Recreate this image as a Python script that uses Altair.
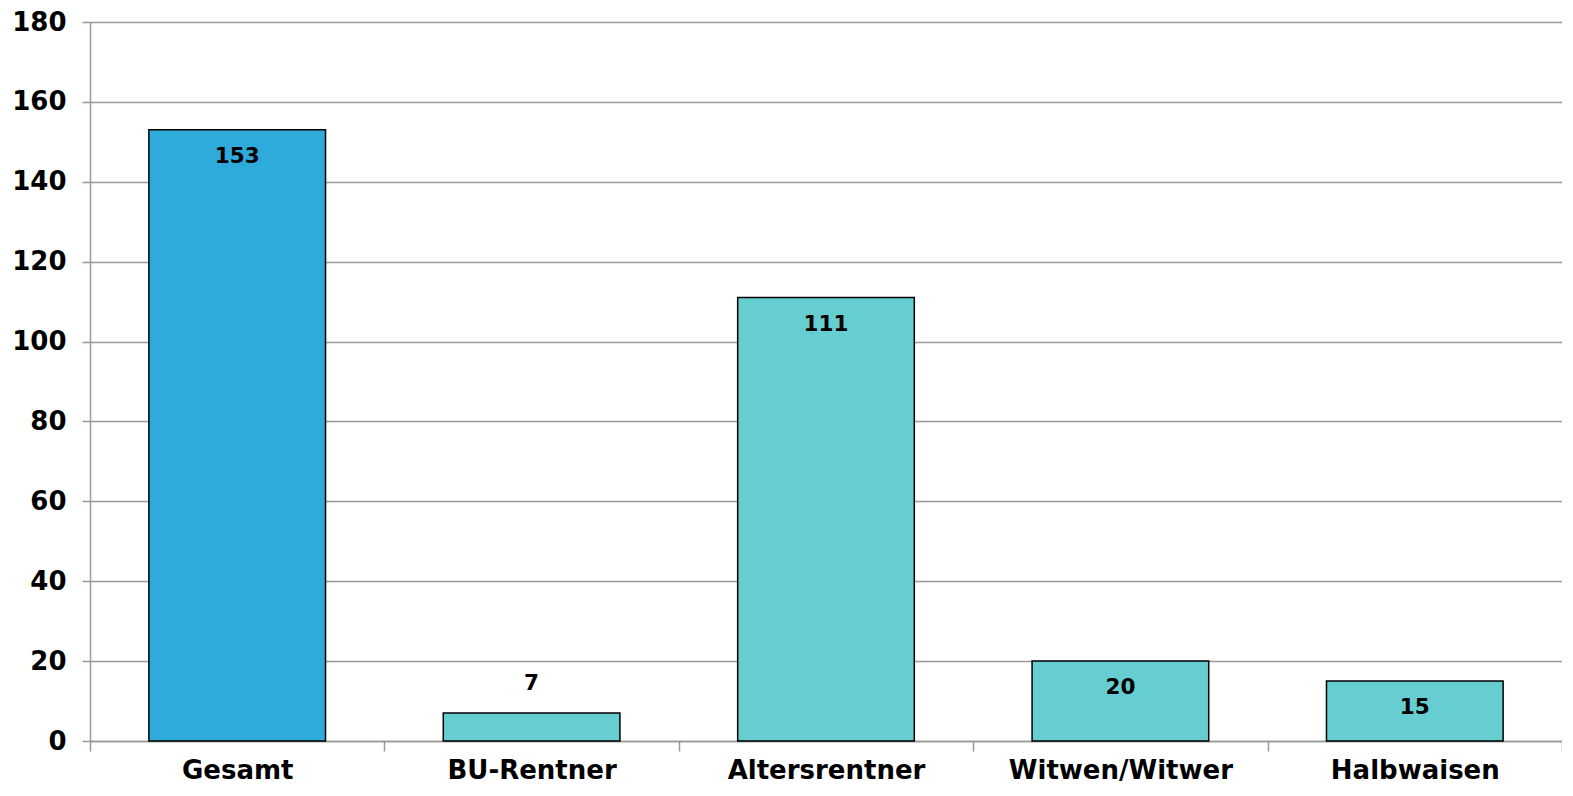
import altair as alt
import pandas as pd

categories = ["Gesamt", "BU-Rentner", "Altersrentner", "Witwen/Witwer", "Halbwaisen"]
values = [153, 7, 111, 20, 15]
groups = ["total", "part", "part", "part", "part"]

df = pd.DataFrame({"category": categories, "value": values, "group": groups})

FONT = "DejaVu Sans"

x = alt.X(
    "category:N",
    sort=categories,
    scale=alt.Scale(paddingInner=0, paddingOuter=0),
    axis=alt.Axis(
        title=None,
        labelAngle=0,
        labelFont=FONT,
        labelFontSize=26,
        labelFontWeight="bold",
        labelColor="#000000",
        labelLimit=0,
        labelPadding=6,
        labelBaseline="top",
        tickBand="extent",
        tickSize=10,
        tickColor="#999999",
        tickWidth=1.5,
        domainColor="#999999",
        domainWidth=1.5,
        grid=False,
    ),
)

y = alt.Y(
    "value:Q",
    scale=alt.Scale(domain=[0, 180], nice=False),
    axis=alt.Axis(
        title=None,
        values=list(range(0, 181, 20)),
        labelFont=FONT,
        labelFontSize=26,
        labelFontWeight="bold",
        labelColor="#000000",
        labelPadding=16,
        tickSize=8,
        tickColor="#999999",
        tickWidth=1.5,
        domainColor="#999999",
        domainWidth=1.5,
        gridColor="#999999",
        gridWidth=1.5,
    ),
)

bars = alt.Chart(df).mark_bar(
    stroke="#000000", strokeWidth=1.5, width=alt.RelativeBandSize(0.6)
).encode(
    x=x,
    y=y,
    color=alt.Color(
        "group:N",
        scale=alt.Scale(domain=["total", "part"], range=["#2EAADB", "#66CED0"]),
        legend=None,
    ),
)

inside = alt.Chart(df).transform_filter("datum.value >= 10").mark_text(
    font=FONT, fontSize=21.5, fontWeight="bold", color="#000000", baseline="top", dy=16
).encode(x=alt.X("category:N", sort=categories), y="value:Q", text="value:Q")

above = alt.Chart(df).transform_filter("datum.value < 10").mark_text(
    font=FONT, fontSize=21.5, fontWeight="bold", color="#000000", baseline="bottom", dy=-18
).encode(x=alt.X("category:N", sort=categories), y="value:Q", text="value:Q")

chart = (
    alt.layer(bars, inside, above)
    .properties(
        width=1472,
        height=719,
        autosize=alt.AutoSizeParams(type="none"),
        padding={"left": 82, "top": 14, "right": 0, "bottom": 42},
        background="#ffffff",
    )
    .configure_view(stroke=None)
)

chart.save("out.html", embed_options={"renderer": "svg", "actions": False})
